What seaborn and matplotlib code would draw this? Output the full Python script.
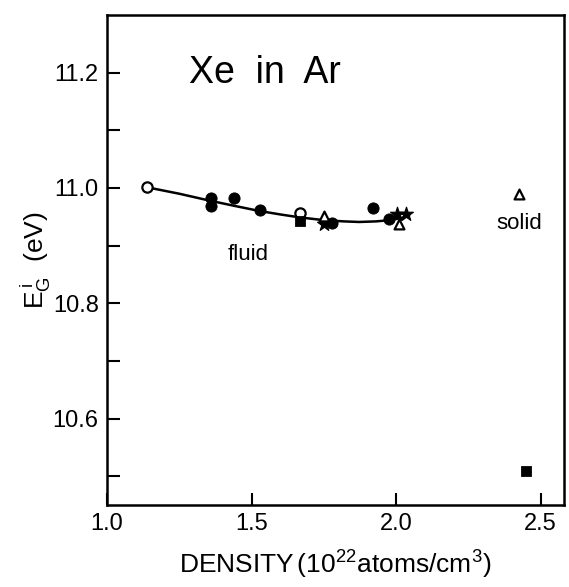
import matplotlib
matplotlib.use("Agg")
import matplotlib.pyplot as plt
import seaborn as sns

# data (density in 1e22 atoms/cm3, E_G in eV)
open_circle_x = [1.14, 1.666]
open_circle_y = [11.002, 10.957]
dot_x = [1.36, 1.36, 1.438, 1.528, 1.779, 1.921, 1.976]
dot_y = [10.983, 10.969, 10.983, 10.962, 10.940, 10.966, 10.947]
square_x = [1.666, 2.45]
square_y = [10.943, 10.509]
triangle_x = [1.752, 2.010, 2.424]
triangle_y = [10.952, 10.938, 10.990]
star_x = [1.752, 2.003, 2.034]
star_y = [10.938, 10.955, 10.955]

# hand-drawn fit curve through the fluid points
curve_x = [1.14, 1.25, 1.355, 1.45, 1.528, 1.60, 1.666, 1.752, 1.82, 1.872, 1.93, 1.976, 2.01, 2.045]
curve_y = [11.001, 10.990, 10.978, 10.968, 10.960, 10.954, 10.949, 10.944, 10.942, 10.941, 10.942, 10.944, 10.947, 10.952]

sns.set_style("ticks")
plt.rcParams["font.family"] = ["Liberation Sans", "DejaVu Sans"]
plt.rcParams["mathtext.fontset"] = "custom"
plt.rcParams["mathtext.rm"] = "Liberation Sans"
plt.rcParams["mathtext.it"] = "Liberation Sans"
plt.rcParams["text.color"] = "black"
plt.rcParams["axes.labelcolor"] = "black"
plt.rcParams["xtick.color"] = "black"
plt.rcParams["ytick.color"] = "black"

fig = plt.figure(figsize=(5.69, 5.87), dpi=100)
ax = fig.add_axes([0.188, 0.1397, 0.803, 0.8347])

sns.lineplot(x=curve_x, y=curve_y, sort=False, color="black", linewidth=1.8, ax=ax)
sns.scatterplot(x=open_circle_x, y=open_circle_y, marker="o", s=55, facecolor="white",
                edgecolor="black", linewidth=1.6, zorder=3, ax=ax)
sns.scatterplot(x=dot_x, y=dot_y, marker="o", s=65, color="black", edgecolor="black", zorder=3, ax=ax)
sns.scatterplot(x=square_x, y=square_y, marker="s", s=55, color="black", edgecolor="black", zorder=3, ax=ax)
sns.scatterplot(x=triangle_x, y=triangle_y, marker="^", s=50, facecolor="white",
                edgecolor="black", linewidth=1.6, zorder=4, ax=ax)
sns.scatterplot(x=star_x, y=star_y, marker="*", s=110, color="black", edgecolor="black", zorder=3, ax=ax)

ax.set_xlim(1.0, 2.58)
ax.set_ylim(10.45, 11.3)
ax.set_xticks([1.0, 1.5, 2.0, 2.5])
ax.set_xticklabels(["1.0", "1.5", "2.0", "2.5"])
ax.set_yticks([10.6, 10.8, 11.0, 11.2])
ax.set_yticklabels(["10.6", "10.8", "11.0", "11.2"])
ax.set_yticks([10.5, 10.7, 10.9, 11.1], minor=True)
ax.tick_params(axis="both", which="both", direction="in", length=9, width=1.5, labelsize=17)
ax.tick_params(axis="x", pad=6)
ax.tick_params(axis="y", pad=6)
for spine in ax.spines.values():
    spine.set_linewidth(1.8)
    spine.set_color("black")

ax.set_xlabel(r"DENSITY$\,(10^{22}$atoms/cm$^{3})$", fontsize=19, labelpad=10)
ax.set_ylabel(r"$E_G^{\,i}$  (eV)", fontsize=19, labelpad=0)

ax.text(1.545, 11.2, "Xe  in  Ar", fontsize=27, ha="center", va="center")
ax.text(1.417, 10.885, "fluid", fontsize=16, ha="left", va="center")
ax.text(2.425, 10.938, "solid", fontsize=16, ha="center", va="center")

fig.savefig("out.png", dpi=100)
